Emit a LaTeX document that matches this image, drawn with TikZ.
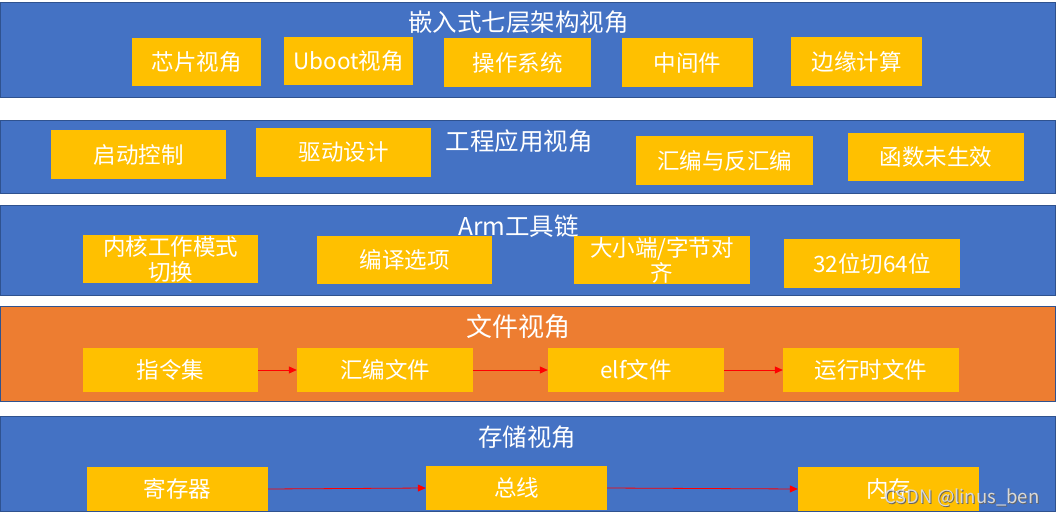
\documentclass[tikz,border=0pt]{standalone}
\usepackage{fontspec}
\setmainfont{Noto Sans CJK SC}
\usetikzlibrary{arrows.meta}
\definecolor{bandblue}{HTML}{4472C4}
\definecolor{bandedge}{HTML}{2F528F}
\definecolor{bandorange}{HTML}{ED7D31}
\definecolor{boxyellow}{HTML}{FFC000}
\begin{document}
\begin{tikzpicture}[x=1pt,y=-1pt,
  bandbox/.style={draw=bandedge,line width=1pt,fill=bandblue},
  orangeband/.style={draw=bandedge,line width=1pt,fill=bandorange},
  ybox/.style={fill=boxyellow,draw=none,inner sep=0pt,text=white,
    font=\fontsize{22.5}{25}\selectfont},
  ytext/.style={text=white,inner sep=0pt,align=center,
    font=\fontsize{22.5}{25}\selectfont},
  bandtitle/.style={text=white,inner sep=0pt,font=\fontsize{24.5}{28}\selectfont},
  flow/.style={draw=red,line width=0.8pt,-{Triangle[length=8pt,width=7pt]}}
]
\useasboundingbox (0,0) rectangle (1056,518);
\fill[white] (0,0) rectangle (1056,518);

% bands
\path[bandbox] (0.5,3) rectangle (1055,98);
\path[bandbox] (0.5,121) rectangle (1055,194);
\path[bandbox] (0.5,206) rectangle (1055,295);
\path[orangeband] (0.5,306) rectangle (1055,401);
\path[bandbox] (0.5,416) rectangle (1055,511);

% band 1
\node[bandtitle] (t1) at (518.5,22) {嵌入式七层架构视角};
\node[ybox,minimum width=129,minimum height=48] (chip) at (196.5,62) {芯片视角};
\node[ybox,minimum width=129,minimum height=48] (uboot) at (348.5,61) {Uboot视角};
\node[ybox,minimum width=147,minimum height=49] (os) at (517.5,62.5) {操作系统};
\node[ybox,minimum width=131,minimum height=49] (mid) at (687.5,62.5) {中间件};
\node[ybox,minimum width=131,minimum height=49] (edge) at (856.5,61.5) {边缘计算};

% band 2
\node[bandtitle] (t2) at (519,141) {工程应用视角};
\node[ybox,minimum width=175,minimum height=49] (boot) at (138.5,154.5) {启动控制};
\node[ybox,minimum width=175,minimum height=49] (drv) at (343.5,152.5) {驱动设计};
\node[ybox,minimum width=177,minimum height=49] (asm) at (724.5,160.5) {汇编与反汇编};
\node[ybox,minimum width=176,minimum height=48] (func) at (936,157) {函数未生效};

% band 3
\node[bandtitle] (t3) at (518.5,226) {Arm工具链};
\node[ybox,minimum width=175,minimum height=48] (kern) at (170.5,259) {};
\node[ytext] (kernt) at (kern.center) {内核工作模式\\切换};
\node[ybox,minimum width=175,minimum height=48] (opt) at (404.5,260) {编译选项};
\node[ybox,minimum width=176,minimum height=48] (endian) at (662,260) {};
\node[ytext] (endiant) at (endian.center) {大小端/字节对\\齐};
\node[ybox,minimum width=176,minimum height=49] (bit) at (872,263.5) {32位切64位};

% band 4
\node[bandtitle,font=\fontsize{26}{30}\selectfont] (t4) at (518.5,327) {文件视角};
\node[ybox,minimum width=175,minimum height=44] (isa) at (170.5,370) {指令集};
\node[ybox,minimum width=176,minimum height=44] (asmf) at (385,370) {汇编文件};
\node[ybox,minimum width=176,minimum height=44] (elf) at (636,370) {elf文件};
\node[ybox,minimum width=176,minimum height=44] (rt) at (871,370) {运行时文件};
\draw[flow] (isa) -- (asmf);
\draw[flow] (asmf) -- (elf);
\draw[flow] (elf) -- (rt);

% band 5
\node[bandtitle] (t5) at (527,437) {存储视角};
\node[ybox,minimum width=181,minimum height=44] (reg) at (177.5,489) {寄存器};
\node[ybox,minimum width=181,minimum height=44] (bus) at (516.5,488) {总线};
\node[ybox,minimum width=181,minimum height=44] (mem) at (888.5,489) {内存};
\draw[flow] (reg.east) -- (bus.west);
\draw[flow] (bus.east) -- (mem.west);

% watermark
\node[text=black!60,inner sep=0pt,font=\fontsize{18.5}{21}\selectfont] (wms) at (963,499) {CSDN @linus\_ben};
\node[text=white!85!black,inner sep=0pt,font=\fontsize{18.5}{21}\selectfont] (wm) at (962,498) {CSDN @linus\_ben};
\end{tikzpicture}
\end{document}
